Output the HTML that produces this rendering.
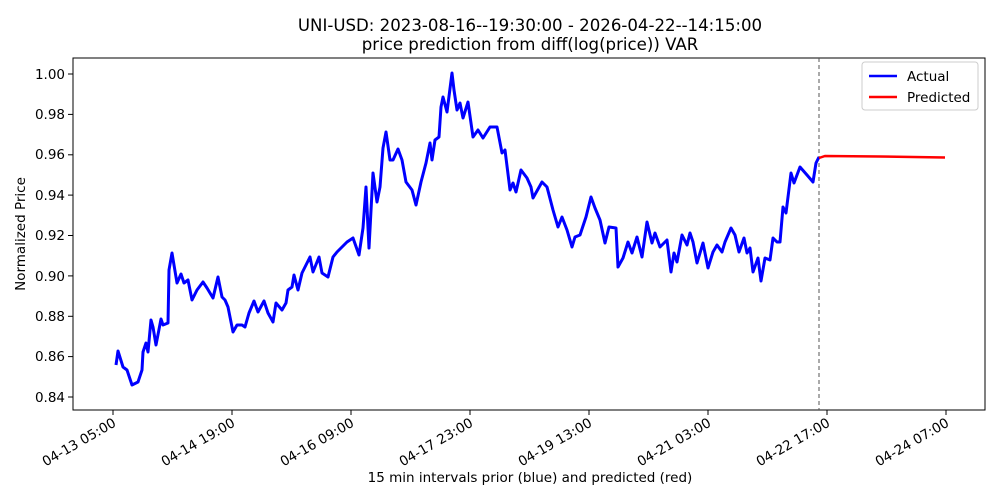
<!DOCTYPE html>
<html><head><meta charset="utf-8"><style>body{margin:0;background:#fff}svg{display:block}text{font-family:"DejaVu Sans","Liberation Sans",sans-serif;fill:#000}</style></head><body>
<svg width="1000" height="500" viewBox="0 0 1000 500">
<text x="530" y="31" font-size="16.6" text-anchor="middle">UNI-USD: 2023-08-16--19:30:00 - 2026-04-22--14:15:00</text>
<text x="530" y="50" font-size="16.6" text-anchor="middle">price prediction from diff(log(price)) VAR</text>
<rect x="73" y="58" width="912" height="352" fill="none" stroke="#000" stroke-width="1"/>
<g font-size="13.5" text-anchor="end">
<line x1="68" x2="73" y1="74" y2="74" stroke="#000"/><text x="65" y="79">1.00</text>
<line x1="68" x2="73" y1="114.4" y2="114.4" stroke="#000"/><text x="65" y="119">0.98</text>
<line x1="68" x2="73" y1="154.8" y2="154.8" stroke="#000"/><text x="65" y="159">0.96</text>
<line x1="68" x2="73" y1="195.1" y2="195.1" stroke="#000"/><text x="65" y="200">0.94</text>
<line x1="68" x2="73" y1="235.5" y2="235.5" stroke="#000"/><text x="65" y="240">0.92</text>
<line x1="68" x2="73" y1="275.9" y2="275.9" stroke="#000"/><text x="65" y="281">0.90</text>
<line x1="68" x2="73" y1="316.3" y2="316.3" stroke="#000"/><text x="65" y="321">0.88</text>
<line x1="68" x2="73" y1="356.6" y2="356.6" stroke="#000"/><text x="65" y="361">0.86</text>
<line x1="68" x2="73" y1="397" y2="397" stroke="#000"/><text x="65" y="402">0.84</text>
</g>
<text transform="translate(25,234) rotate(-90)" font-size="13.5" text-anchor="middle">Normalized Price</text>
<g font-size="13.5" text-anchor="end">
<g transform="translate(113,410)"><line y2="5" stroke="#000"/><text transform="translate(2,12) rotate(-30)" y="4">04-13 05:00</text></g>
<g transform="translate(232,410)"><line y2="5" stroke="#000"/><text transform="translate(2,12) rotate(-30)" y="4">04-14 19:00</text></g>
<g transform="translate(351,410)"><line y2="5" stroke="#000"/><text transform="translate(2,12) rotate(-30)" y="4">04-16 09:00</text></g>
<g transform="translate(470,410)"><line y2="5" stroke="#000"/><text transform="translate(2,12) rotate(-30)" y="4">04-17 23:00</text></g>
<g transform="translate(589,410)"><line y2="5" stroke="#000"/><text transform="translate(2,12) rotate(-30)" y="4">04-19 13:00</text></g>
<g transform="translate(708,410)"><line y2="5" stroke="#000"/><text transform="translate(2,12) rotate(-30)" y="4">04-21 03:00</text></g>
<g transform="translate(827,410)"><line y2="5" stroke="#000"/><text transform="translate(2,12) rotate(-30)" y="4">04-22 17:00</text></g>
<g transform="translate(946,410)"><line y2="5" stroke="#000"/><text transform="translate(2,12) rotate(-30)" y="4">04-24 07:00</text></g>
</g>
<text x="530" y="482" font-size="13.5" text-anchor="middle">15 min intervals prior (blue) and predicted (red)</text>
<line x1="819" x2="819" y1="58" y2="410" stroke="#555" stroke-dasharray="4,3" stroke-width="1"/>
<polyline fill="none" stroke="#0000ff" stroke-width="3" stroke-linejoin="round" points="116,365 118,351 123,367 127,370 132,385 138,382 142,370 143,352 146,343 148,352 151,320 153,327 156,345 161,319 163,325 168,323 169,270 172,253 177,283 181,274 184,283 188,280 192,300 197,290 203,282 207,288 213,298 218,277 222,297 225,300 228,307 233,332 237,325 242,325 245,327 249,313 254,301 258,312 264,301 268,313 273,322 276,303 282,310 286,303 288,290 292,287 294,275 298,290 302,273 310,257 313,272 319,257 322,273 328,277 333,257 337,252 347,242 353,238 359,255 363,228 366,187 369,248 373,173 377,202 380,187 383,148 386,132 390,160 393,160 398,149 402,160 406,182 412,190 416,205 421,182 426,163 430,143 432,160 435,140 439,137 441,107 443,97 447,112 452,73 454,90 457,110 460,103 463,118 468,102 473,137 478,130 483,138 490,127 497,127 502,153 505,150 510,190 513,183 516,192 521,170 527,178 531,187 533,198 542,182 547,187 553,210 558,227 562,217 567,230 572,247 575,237 580,235 586,217 591,197 595,208 600,220 605,243 609,227 616,228 618,267 623,258 628,242 632,253 637,237 642,257 647,222 652,243 655,233 660,247 667,240 671,272 674,253 677,262 682,235 687,245 690,233 693,242 697,263 703,243 708,268 713,252 717,245 722,252 725,242 731,228 735,235 739,252 744,238 747,253 750,248 753,272 758,258 761,281 765,258 770,260 773,238 777,242 780,242 783,207 786,213 791,173 794,183 800,167 807,175 813,182 816,163 819,157"/>
<polyline fill="none" stroke="#ff0000" stroke-width="2.5" points="819,158 825,156 880,156.5 945,157.5"/>
<rect x="862" y="62" width="116" height="48" fill="#fff" stroke="#ccc" rx="3"/>
<line x1="869" x2="897" y1="76" y2="76" stroke="#0000ff" stroke-width="2.5"/>
<text x="907" y="81" font-size="13.5">Actual</text>
<line x1="869" x2="897" y1="97" y2="97" stroke="#ff0000" stroke-width="2.5"/>
<text x="907" y="102" font-size="13.5">Predicted</text>
</svg>
</body></html>
